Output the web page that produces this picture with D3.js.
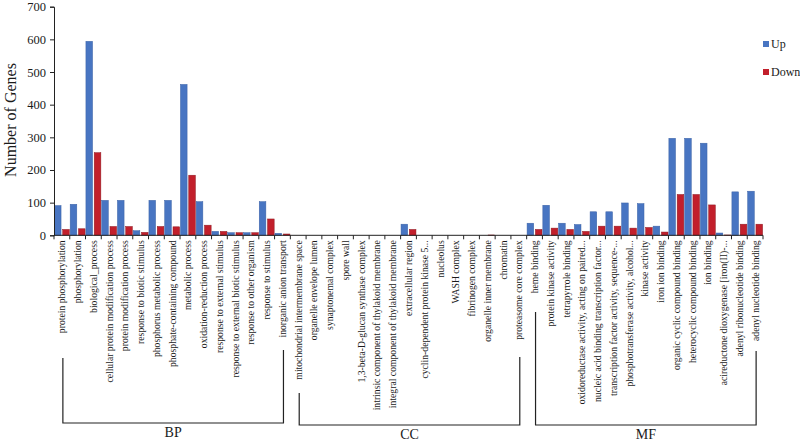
<!DOCTYPE html>
<html>
<head>
<meta charset="utf-8">
<script src="https://cdn.jsdelivr.net/npm/d3@7/dist/d3.min.js"></script>
<style>
body { margin: 0; background: #fff; }
svg { display: block; }
text { font-family: "Liberation Serif", "Times New Roman", serif; fill: #1a1a1a; }
</style>
</head>
<body>
<svg id="chart" width="800" height="441"></svg>
<script>
const bpCategories = ["protein phosphorylation","phosphorylation","biological_process","cellular protein modification process","protein modification process","response to biotic stimulus","phosphorus metabolic process","phosphate-containing compound","metabolic process","oxidation-reduction process","response to external stimulus","response to external biotic stimulus","response to other organism","response to stimulus","inorganic anion transport"];
const ccCategories = ["mitochondrial intermembrane space","organelle envelope lumen","synaptonemal complex","spore wall","1,3-beta-D-glucan synthase complex","intrinsic component of thylakoid membrane","integral component of thylakoid membrane","extracellular region","cyclin-dependent protein kinase 5...","nucleolus","WASH complex","fibrinogen complex","organelle inner membrane","chromatin","proteasome core complex"];
const mfCategories = ["heme binding","protein kinase activity","tetrapyrrole binding","oxidoreductase activity, acting on paired...","nucleic acid binding transcription factor...","transcription factor activity, sequence-...","phosphotransferase activity, alcohol...","kinase activity","iron ion binding","organic cyclic compound binding","heterocyclic compound binding","ion binding","acireductone dioxygenase [iron(II)-...","adenyl ribonucleotide binding","adenyl nucleotide binding"];

const upValues = [91,95,594,107,107,14,107,107,462,103,12,8,8,103,6,
                  0,0,0,0,0,0,0,34,0,0,0,0,0,0,0,
                  37,92,37,33,72,72,99,97,28,297,297,282,7,133,135];
const downValues = [18,20,253,27,27,9,27,26,184,31,12,8,8,50,4,
                    0,0,0,0,0,0,0,18,0,0,0,0,1,0,0,
                    18,22,18,12,28,28,22,24,10,125,125,93,1,34,34];

const seriesNames = ["Up","Down"];
const groupNames = ["BP","CC","MF"];
const yTicks = [0,100,200,300,400,500,600,700];

const categories = bpCategories.concat(ccCategories, mfCategories);
const groups = [bpCategories, ccCategories, mfCategories];
const colors = { Up: "#4875C2", Down: "#C21F2B" };
const strokes = { Up: "#3B62A6", Down: "#8E1A22" };

const svg = d3.select("#chart");
const x = d3.scaleBand().domain(categories).range([54, 763]).padding(0);
const xs = d3.scaleBand().domain(seriesNames).range([0, x.bandwidth()]).paddingInner(0.2).paddingOuter(0.05);
const y = d3.scaleLinear().domain([0, 700]).range([235.3, 6.7]);

// bars
const data = categories.map((c, i) => ({ cat: c, Up: upValues[i], Down: downValues[i] }));
const g = svg.append("g");
g.selectAll("g.cat").data(data).join("g")
  .attr("transform", d => `translate(${x(d.cat)},0)`)
  .selectAll("rect").data(d => seriesNames.map(s => ({ s, v: d[s] })))
  .join("rect")
  .attr("x", d => xs(d.s))
  .attr("width", xs.bandwidth())
  .attr("y", d => y(d.v))
  .attr("height", d => y(0) - y(d.v))
  .attr("fill", d => colors[d.s])
  .attr("stroke", d => d.v > 0 ? strokes[d.s] : "none")
  .attr("stroke-width", 0.5);

// y axis
const yAxis = svg.append("g").attr("transform", "translate(54,0)")
  .call(d3.axisLeft(y).tickValues(yTicks).tickSize(4).tickPadding(4));
yAxis.select(".domain").attr("stroke", "#222");
yAxis.selectAll(".tick line").attr("stroke", "#222");
yAxis.selectAll("text").style("font-size", "12.5px").style("font-family", "Liberation Serif").attr("fill", "#1a1a1a");

// x axis with ticks at category boundaries
svg.append("line").attr("x1", 54).attr("x2", 763).attr("y1", y(0)).attr("y2", y(0)).attr("stroke", "#222");
const bounds = categories.map(c => x(c)).concat([x.range()[1]]);
svg.append("g").selectAll("line").data(bounds).join("line")
  .attr("x1", d => d).attr("x2", d => d)
  .attr("y1", y(0)).attr("y2", y(0) + 4)
  .attr("stroke", "#222");

// category labels
svg.append("g").selectAll("text").data(categories).join("text")
  .attr("transform", d => `translate(${x(d) + x.bandwidth() / 2 + 3.5},${y(0) + 5}) rotate(-90)`)
  .attr("text-anchor", "end")
  .style("font-size", "9.7px")
  .text(d => d);

// group brackets
const bracketTops = [[358, 350], [393, 357], [312, 351]];
const bracketBottoms = [423, 425, 425];
groups.forEach((cats, gi) => {
  const x1 = x(cats[0]) + x.bandwidth() / 2 + 1;
  const x2 = x(cats[cats.length - 1]) + x.bandwidth() / 2 + 1;
  const yb = bracketBottoms[gi];
  svg.append("path")
    .attr("d", `M${x1},${bracketTops[gi][0]}V${yb}H${x2}V${bracketTops[gi][1]}`)
    .attr("fill", "none").attr("stroke", "#222").attr("stroke-width", 1.2);
  svg.append("text")
    .attr("x", (x1 + x2) / 2).attr("y", yb + 14)
    .attr("text-anchor", "middle")
    .style("font-size", "14px")
    .text(groupNames[gi]);
});

// y axis title
svg.append("text")
  .attr("transform", "translate(16,120) rotate(-90)")
  .attr("text-anchor", "middle")
  .style("font-size", "16px")
  .text("Number of Genes");

// legend
const legend = svg.append("g");
seriesNames.forEach((s, i) => {
  const ly = 44 + i * 28;
  legend.append("rect").attr("x", 763).attr("y", ly - 3).attr("width", 6).attr("height", 6).attr("fill", colors[s]);
  legend.append("text").attr("x", 771).attr("y", ly + 4).style("font-size", "12px").text(s);
});
</script>
</body>
</html>
